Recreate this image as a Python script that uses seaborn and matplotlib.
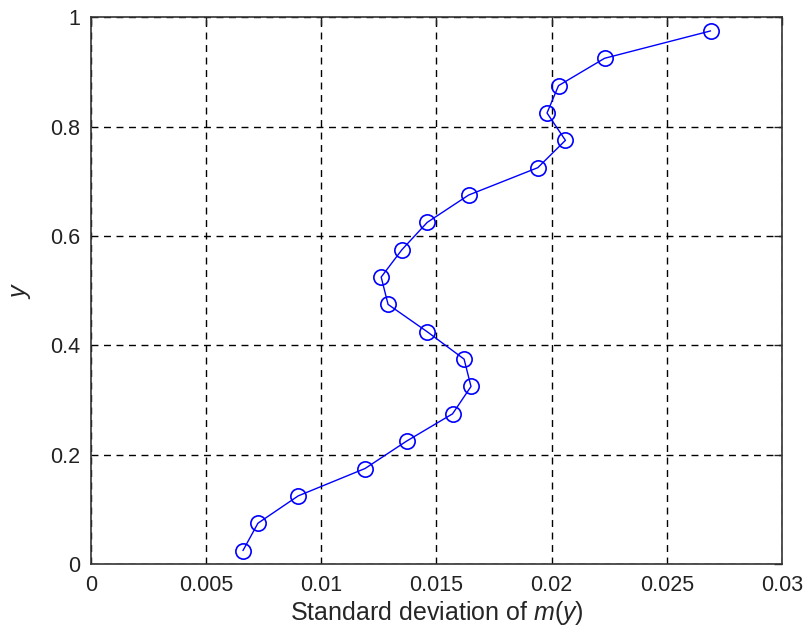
import matplotlib
matplotlib.use("Agg")
import matplotlib.pyplot as plt
import seaborn as sns
import pandas as pd

y_vals = [0.025, 0.075, 0.125, 0.175, 0.225, 0.275, 0.325, 0.375, 0.425, 0.475,
          0.525, 0.575, 0.625, 0.675, 0.725, 0.775, 0.825, 0.875, 0.925, 0.975]
std_vals = [0.0066, 0.00725, 0.0090, 0.0119, 0.0137, 0.0157, 0.0165, 0.0162, 0.0146, 0.0129,
            0.0126, 0.0135, 0.0146, 0.0164, 0.0194, 0.0206, 0.0198, 0.0203, 0.0223, 0.0269]
x_ticks = [0, 0.005, 0.01, 0.015, 0.02, 0.025, 0.03]
x_tick_labels = ["0", "0.005", "0.01", "0.015", "0.02", "0.025", "0.03"]
y_ticks = [0, 0.2, 0.4, 0.6, 0.8, 1.0]
y_tick_labels = ["0", "0.2", "0.4", "0.6", "0.8", "1"]

sns.set_style("white")
plt.rcParams["font.family"] = ["Liberation Sans", "DejaVu Sans"]
plt.rcParams["mathtext.fontset"] = "custom"
plt.rcParams["mathtext.rm"] = "Liberation Sans"
plt.rcParams["mathtext.it"] = "Liberation Sans:italic"

df = pd.DataFrame({"std": std_vals, "y": y_vals})

fig = plt.figure(figsize=(8.12, 6.39), dpi=100)
ax = fig.add_axes([0.112, 0.117, 0.851, 0.856])

sns.lineplot(data=df, x="std", y="y", sort=False, estimator=None, ax=ax,
             color="#0000ff", linewidth=1.0, marker="o", markersize=11,
             markerfacecolor="none", markeredgecolor="#0000ff", markeredgewidth=1.2)

ax.set_xlim(0, 0.03)
ax.set_ylim(0, 1)
ax.set_xticks(x_ticks)
ax.set_xticklabels(x_tick_labels)
ax.set_yticks(y_ticks)
ax.set_yticklabels(y_tick_labels)
ax.grid(True, color="black", linestyle=(0, (5, 4)), linewidth=1.0)
for s in ax.spines.values():
    s.set_visible(True)
    s.set_color("#333333")
    s.set_linewidth(1.2)
ax.tick_params(direction="in", length=6, width=1, top=True, right=True,
               labelsize=15.5, colors="#222222", pad=8)
ax.set_xlabel(r"Standard deviation of $\mathit{m(y)}$", fontsize=18, labelpad=2)
ax.set_ylabel(r"$\mathit{y}$", fontsize=18, labelpad=12)

fig.savefig("out.png", dpi=100)
